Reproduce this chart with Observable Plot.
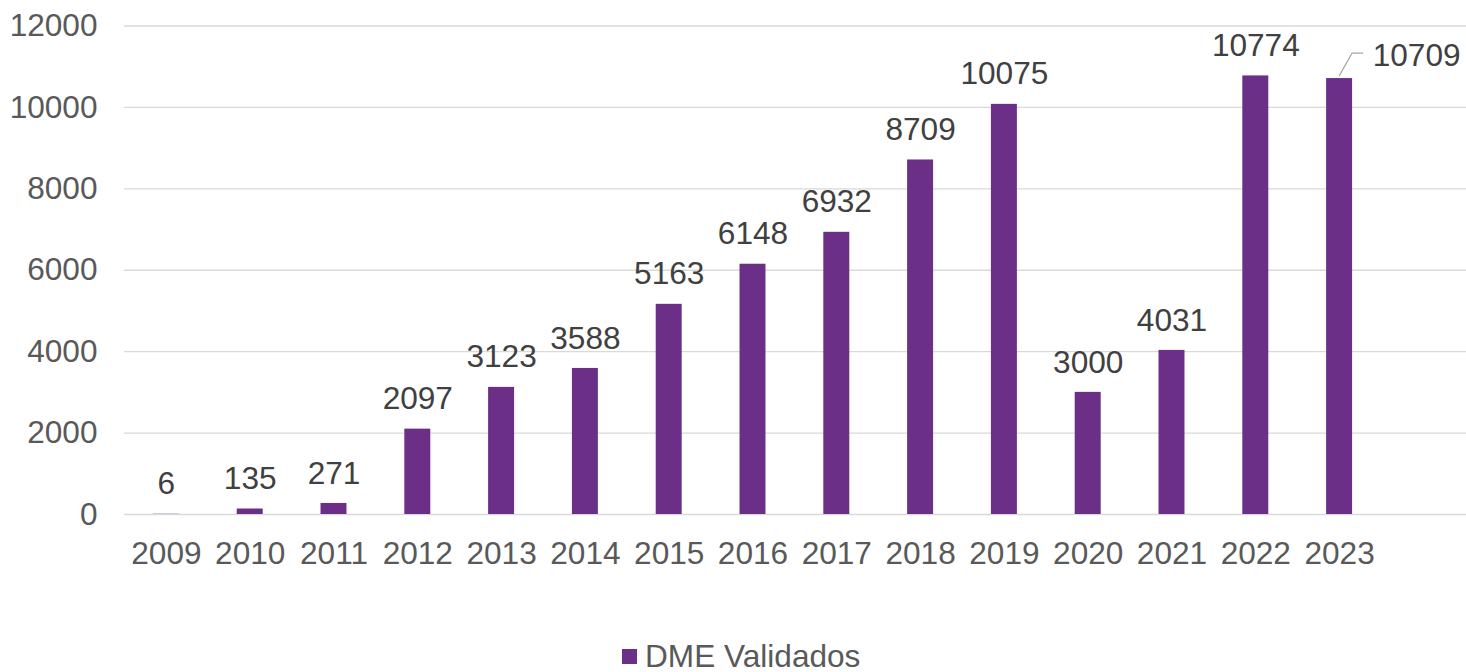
<!DOCTYPE html>
<html>
<head>
<meta charset="utf-8">
<script src="https://cdn.jsdelivr.net/npm/d3@7"></script>
<script src="https://cdn.jsdelivr.net/npm/@observablehq/plot@0.6"></script>
<style>
  html, body { margin: 0; padding: 0; background: #fff; }
  body { width: 1466px; height: 672px; overflow: hidden; font-family: "Liberation Sans", Arial, sans-serif; }
  #legend { height: 47px; position: relative; }
  #legend .item { position: absolute; left: 622px; top: 15px; display: flex; align-items: center; font-size: 31.6px; line-height: 32px; color: #595959; }
  #legend .sw { width: 15px; height: 15px; background: #6b2f87; margin-right: 8px; }
</style>
</head>
<body>
<div id="chart"></div>
<div id="legend"><div class="item"><span class="sw"></span><span>DME Validados</span></div></div>
<script>
const years = ["2009","2010","2011","2012","2013","2014","2015","2016","2017","2018","2019","2020","2021","2022","2023"];
const values = [6,135,271,2097,3123,3588,5163,6148,6932,8709,10075,3000,4031,10774,10709];
const yTicks = [0,2000,4000,6000,8000,10000,12000];
const seriesName = "DME Validados";

const data = years.map((y, i) => ({year: y, value: values[i]}));
const lastYear = years[years.length - 1];
const mainLabels = data.filter(d => d.year !== lastYear);
const lastLabel = data.filter(d => d.year === lastYear);

const W = 1466, H = 625;
const color = "#6b2f87";
const FS = 31.6;

const leader = (index, scales) => {
  const d = lastLabel[0];
  const cx = scales.x(d.year) + scales.x.bandwidth() / 2;
  const cy = scales.y(d.value);
  const p = d3.create("svg:path")
    .attr("d", `M${cx},${cy - 2} L${cx + 13},${cy - 25} L${cx + 24},${cy - 25}`)
    .attr("fill", "none")
    .attr("stroke", "#a6a6a6")
    .attr("stroke-width", 1.3);
  return p.node();
};

const chart = Plot.plot({
  width: W,
  height: H,
  marginLeft: 124,
  marginRight: 0,
  marginTop: 25,
  marginBottom: H - 514,
  style: {fontFamily: "'Liberation Sans', Arial, sans-serif", fontSize: FS + "px", background: "#fff"},
  x: {domain: years, range: [124, 1381], paddingInner: 0.69, paddingOuter: 0.345, round: false, label: null},
  y: {domain: [0, 12000], range: [514, 25.5], label: null},
  marks: [
    Plot.ruleY(yTicks, {stroke: "#d9d9d9", strokeWidth: 1.4}),
    Plot.axisY(yTicks, {tickSize: 0, tickPadding: 27, tickFormat: d3.format("d"), fill: "#595959", fontSize: FS, label: null}),
    Plot.axisX({tickSize: 0, tickPadding: 27, fill: "#595959", fontSize: FS, label: null}),
    Plot.barY(data, {x: "year", y: "value", fill: color}),
    Plot.text(mainLabels, {x: "year", y: "value", text: d => String(d.value), dy: -30, lineAnchor: "middle", fill: "#404040", fontSize: FS}),
    Plot.text(lastLabel, {x: "year", y: "value", text: d => String(d.value), dx: 77, dy: -23, lineAnchor: "middle", fill: "#404040", fontSize: FS}),
    leader
  ]
});
document.getElementById("chart").appendChild(chart);
</script>
</body>
</html>
